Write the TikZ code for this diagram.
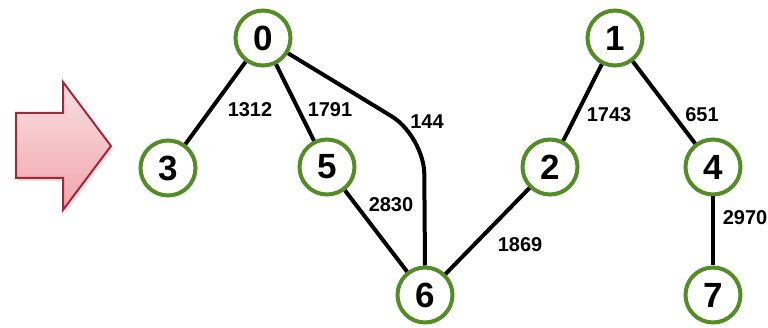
\documentclass[tikz,border=0pt]{standalone}
\usepackage{fontspec}
\setmainfont{Liberation Sans}
\usetikzlibrary{shadows}
\definecolor{ngreen}{RGB}{84,140,38}
\definecolor{arrowedge}{RGB}{160,40,58}
\definecolor{arrowtop}{RGB}{250,222,225}
\definecolor{arrowbot}{RGB}{240,166,172}
\tikzset{
  vtx/.style={circle, draw=ngreen, line width=4pt, fill=white, minimum size=55pt, inner sep=0pt,
    font=\fontsize{35}{35}\selectfont\bfseries},
  edge/.style={line width=4pt, black},
  lbl/.style={font=\fontsize{20}{20}\selectfont\bfseries, inner sep=1pt},
}
\begin{document}
\begin{tikzpicture}[x=1pt,y=-1pt]
\useasboundingbox (0,0) rectangle (768,328);
% big arrow
\path[draw=arrowedge, line width=2pt, line join=miter, top color=arrowtop, bottom color=arrowbot,
  drop shadow={shadow xshift=2pt, shadow yshift=-3pt, opacity=0.25}]
  (16,113) -- (63,113) -- (63,82) -- (111,146) -- (63,210) -- (63,178) -- (16,178) -- cycle;
% vertices
\node[vtx] (n0) at (263,38) {0};
\node[vtx] (n1) at (615,38) {1};
\node[vtx] (n3) at (168,168) {3};
\node[vtx] (n5) at (327,167) {5};
\node[vtx] (n2) at (550,167) {2};
\node[vtx] (n4) at (713,167) {4};
\node[vtx] (n6) at (425,295) {6};
\node[vtx] (n7) at (713,295) {7};
\coordinate (bend) at (424,136);
% edges
\draw[edge] (n0) -- (n3);
\draw[edge] (n0) -- (n5);
\draw[edge, rounded corners=38pt] (n0) -- (bend) -- (n6.north);
\draw[edge] (n5) -- (n6);
\draw[edge] (n2) -- (n6);
\draw[edge] (n1) -- (n2);
\draw[edge] (n1) -- (n4);
\draw[edge] (n4) -- (n7);
% labels
\node[lbl] (l1312) at (250,110) {1312};
\node[lbl] (l1791) at (330,110) {1791};
\node[lbl] (l144) at (427,122) {144};
\node[lbl] (l2830) at (391,205) {2830};
\node[lbl] (l1869) at (520,245) {1869};
\node[lbl] (l1743) at (609,115) {1743};
\node[lbl] (l651) at (702,115) {651};
\node[lbl] (l2970) at (745,218) {2970};
\end{tikzpicture}
\end{document}
